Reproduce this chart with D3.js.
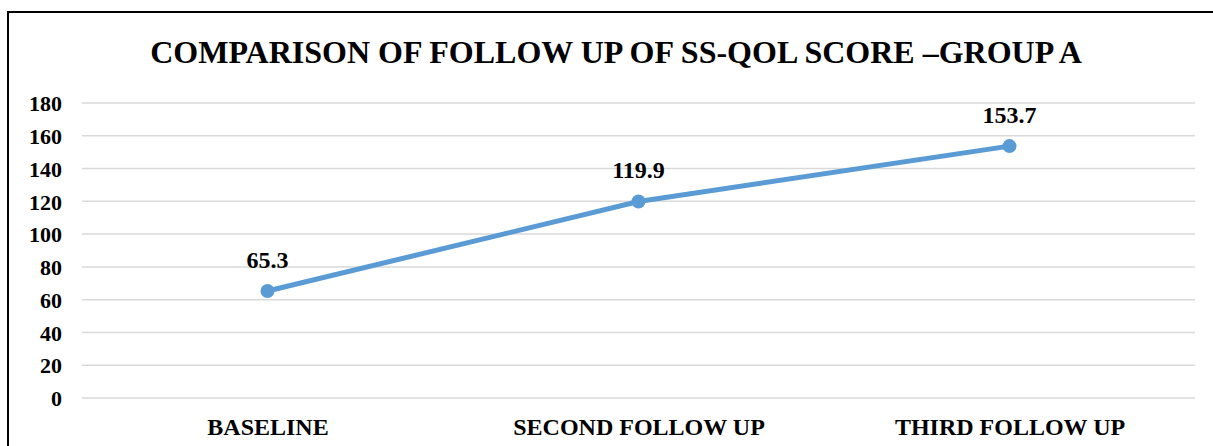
<!DOCTYPE html>
<html lang="en">
  <head>
    <meta charset="utf-8">
    <title>SS-QOL Group A</title>
    <style media="screen">
      body { margin: 0; background: #fff; }
      svg text { font-family: "Liberation Serif", "Times New Roman", serif; font-weight: bold; fill: #000; }
    </style>
  </head>
  <body>
    <div id="graph-div"></div>
    <script src="https://d3js.org/d3.v7.min.js"></script>
    <script type="text/javascript">

    var categories = ["BASELINE", "SECOND FOLLOW UP", "THIRD FOLLOW UP"];
    var scores = [65.3, 119.9, 153.7];
    var yTicks = [0, 20, 40, 60, 80, 100, 120, 140, 160, 180];
    var title = "COMPARISON OF FOLLOW UP OF SS-QOL SCORE \u2013GROUP A";

    var width = 1213, height = 446;
    var margin = {top: 103, right: 18, bottom: 48, left: 82};

    var svg = d3.select("#graph-div")
      .append("svg")
        .attr("width", width)
        .attr("height", height);

    // outer frame (right/bottom edges fall outside the picture)
    svg.append("rect")
      .attr("x", 8).attr("y", 12)
      .attr("width", 1300).attr("height", 600)
      .attr("fill", "none")
      .attr("stroke", "#000")
      .attr("stroke-width", 2);

    svg.append("text")
      .attr("x", 616)
      .attr("y", 63)
      .attr("text-anchor", "middle")
      .style("font-size", "32px")
      .text(title);

    var x = d3.scalePoint()
      .domain(categories)
      .range([margin.left, width - margin.right])
      .padding(0.5);

    var y = d3.scaleLinear()
      .domain([0, 180])
      .range([height - margin.bottom, margin.top]);

    // gridlines
    svg.append("g")
      .selectAll("line")
      .data(yTicks)
      .enter()
      .append("line")
        .attr("x1", margin.left)
        .attr("x2", width - margin.right)
        .attr("y1", function(d) { return y(d); })
        .attr("y2", function(d) { return y(d); })
        .attr("stroke", "#d9d9d9")
        .attr("stroke-width", 1.5);

    // y axis labels
    var yAxis = svg.append("g")
      .attr("transform", "translate(" + (margin.left - 20) + ",0)")
      .call(d3.axisLeft(y).tickValues(yTicks).tickSize(0).tickPadding(0));
    yAxis.select(".domain").remove();
    yAxis.selectAll("text")
      .attr("dy", "0.35em")
      .style("font-size", "22px");

    // x axis labels
    var xAxis = svg.append("g")
      .attr("transform", "translate(0," + (height - margin.bottom) + ")")
      .call(d3.axisBottom(x).tickSize(0).tickPadding(0));
    xAxis.select(".domain").remove();
    xAxis.selectAll("text")
      .attr("dy", null)
      .attr("y", 37)
      .style("font-size", "24px");

    var data = categories.map(function(c, i) { return {cat: c, v: scores[i]}; });

    var line = d3.line()
      .x(function(d) { return x(d.cat); })
      .y(function(d) { return y(d.v); });

    svg.append("path")
      .datum(data)
      .attr("d", line)
      .attr("fill", "none")
      .attr("stroke", "#5b9bd5")
      .attr("stroke-width", 5)
      .attr("stroke-linecap", "round");

    svg.selectAll("circle.pt")
      .data(data)
      .enter()
      .append("circle")
        .attr("class", "pt")
        .attr("cx", function(d) { return x(d.cat); })
        .attr("cy", function(d) { return y(d.v); })
        .attr("r", 7)
        .attr("fill", "#5b9bd5");

    svg.selectAll("text.lbl")
      .data(data)
      .enter()
      .append("text")
        .attr("class", "lbl")
        .attr("x", function(d) { return x(d.cat); })
        .attr("y", function(d) { return y(d.v) - 23; })
        .attr("text-anchor", "middle")
        .style("font-size", "24px")
        .text(function(d) { return d3.format(".1f")(d.v); });

    </script>
  </body>
</html>
